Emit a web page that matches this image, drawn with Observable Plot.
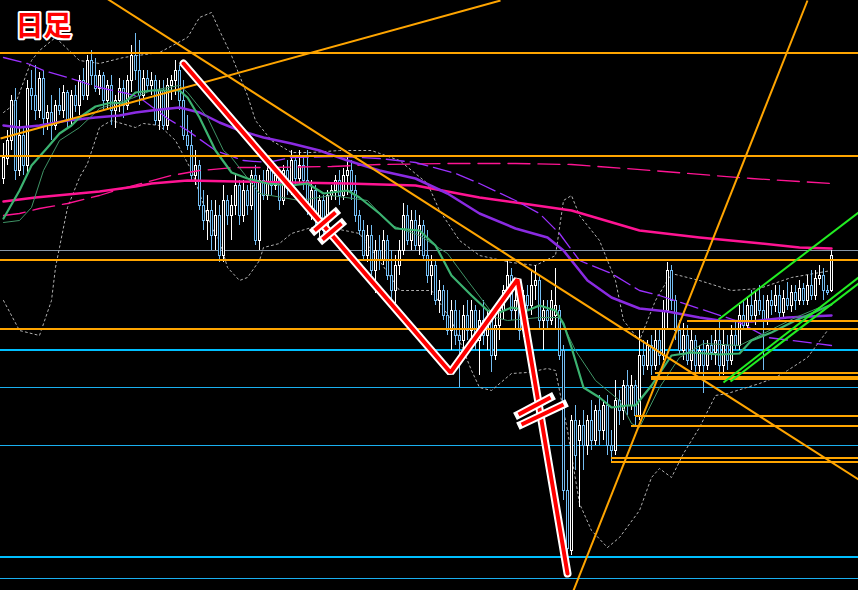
<!DOCTYPE html>
<html><head><meta charset="utf-8">
<script src="https://cdn.jsdelivr.net/npm/d3@7"></script>
<script src="https://cdn.jsdelivr.net/npm/@observablehq/plot@0.6"></script>
<style>html,body{margin:0;padding:0;background:#000;} #chart svg{display:block}</style>
</head><body><div id="chart"></div>
<script>
// Daily candles (price units), index = bar number
const opens = [
422,442,460,500,430,465,435,512,505,490,
522,482,488,475,495,490,508,480,505,495,
520,505,540,525,512,525,500,515,490,500,
512,495,520,545,530,505,522,515,520,480,
510,475,515,520,530,500,465,455,425,435,
395,380,390,365,385,345,400,385,395,415,
385,410,395,425,360,420,405,430,415,425,
400,430,412,440,422,435,420,390,410,380,
400,370,405,410,420,405,425,430,410,385,
370,345,365,330,350,340,360,325,310,335,
350,385,360,380,355,375,345,325,335,300,
310,285,270,290,265,260,285,270,290,260,
280,265,280,245,275,290,310,325,290,300,
270,305,295,315,320,280,290,280,285,290,
250,110,50,180,160,175,155,180,160,190,
170,195,155,150,200,190,215,195,215,185,
245,235,255,235,260,245,290,330,300,270,
250,265,240,260,235,250,235,255,248,260,
235,255,240,265,255,285,275,295,285,300,
290,280,300,295,305,288,302,295,308,300,
312,300,315,305,322,325,310,310];
const highs = [
457,470,505,512,480,472,520,530,535,528,
530,495,505,500,512,515,510,510,515,525,
532,545,550,542,530,528,520,525,505,522,
520,525,555,567,560,530,530,528,525,520,
520,522,525,540,535,520,485,470,450,440,
410,405,400,400,395,415,405,405,425,420,
420,415,430,435,425,430,435,440,435,430,
435,440,450,445,450,445,450,420,415,405,
405,410,415,425,430,432,443,440,425,390,
380,375,375,360,365,370,365,350,345,360,
397,395,390,390,385,380,370,345,340,320,
315,310,300,300,290,295,300,300,295,290,
300,290,282,285,300,315,340,332,315,320,
310,315,330,335,325,300,300,310,332,295,
255,130,185,195,180,190,185,200,195,205,
200,205,170,220,210,220,230,225,220,270,
260,260,265,270,270,300,338,335,305,280,
277,275,270,265,255,260,260,265,270,280,
270,265,275,280,295,300,303,310,308,315,
305,305,310,315,315,310,318,315,315,320,
317,325,330,330,335,332,315,350];
const lows = [
416,435,450,420,424,425,428,490,480,482,
465,470,460,470,485,482,472,475,488,485,
500,500,515,508,505,490,492,475,472,488,
482,490,508,520,495,500,510,505,475,470,
470,470,500,505,490,460,450,420,415,390,
370,360,350,350,338,338,375,360,385,375,
378,385,390,355,350,400,400,405,410,390,
395,405,405,415,415,410,385,380,375,363,
365,365,400,400,395,400,405,400,378,365,
340,338,325,307,330,335,320,300,297,325,
345,355,350,350,345,340,317,305,295,287,
280,265,250,255,213,245,260,255,250,225,
255,250,228,240,260,280,300,280,270,260,
263,290,285,300,270,250,270,275,270,240,
100,23,45,130,93,130,145,150,155,155,
160,145,138,145,175,180,185,190,175,180,
225,230,225,230,235,240,270,290,260,245,
240,235,230,225,228,207,230,240,235,220,
225,230,235,250,250,270,270,280,275,285,
230,275,285,288,280,282,290,288,290,295,
295,295,300,300,315,300,305,308];
const closes = [
443,460,500,430,465,435,512,505,490,522,
482,488,475,495,490,508,480,505,495,520,
505,540,525,512,525,500,515,490,500,512,
495,520,545,530,505,522,515,520,480,510,
475,515,520,530,500,465,455,425,435,395,
380,390,365,385,345,400,385,395,415,385,
410,395,425,360,420,405,430,415,425,400,
430,412,440,422,435,420,390,410,380,400,
370,405,410,420,405,425,430,410,385,370,
345,365,330,350,340,360,325,310,335,350,
385,360,380,355,375,345,325,335,300,310,
285,270,290,265,260,285,270,290,260,280,
265,280,245,275,290,310,325,290,300,270,
305,295,315,320,280,290,280,300,295,245,
110,52,180,145,175,155,180,160,190,170,
195,155,150,200,190,215,195,215,185,245,
235,255,235,260,245,290,330,300,270,250,
265,240,260,235,250,235,255,248,260,235,
255,240,265,255,285,275,295,285,300,290,
280,300,295,305,288,302,295,308,300,312,
300,315,305,322,325,310,308,345];

// Moving averages [bar, value]
const maGreen = [[0,382],[4,410],[7,435],[11,453],[14,467],[17,475],[19,483],[23,494],[27,498],[30,497],[33,508],[37,510],[44,510],[46,503],[49,483],[53,450],[57,428],[61,422],[66,417],[72,415],[76,417],[80,407],[86,410],[89,403],[94,387],[98,372],[104,370],[108,355],[112,325],[117,305],[121,290],[124,288],[127,293],[131,290],[134,295],[138,290],[140,277],[142,253],[145,213],[149,203],[152,193],[156,195],[158,195],[162,215],[167,245],[172,248],[179,246],[184,247],[187,260],[192,268],[198,280],[202,287],[207,296]];
const maGreenThin = [[0,378],[4,380],[7,393],[10,430],[14,460],[19,473],[24,492],[32,502],[37,510],[44,515],[46,508],[51,483],[55,450],[57,443],[64,407],[74,400],[82,405],[91,400],[97,375],[104,365],[111,347],[116,320],[123,283],[126,280],[134,283],[139,283],[143,250],[148,220],[154,200],[157,177],[159,173],[164,213],[169,243],[175,257],[184,255],[198,283],[204,293]];
const maPurple = [[0,475],[4,473],[9,475],[16,480],[23,483],[29,485],[33,488],[37,490],[44,493],[49,488],[54,478],[59,470],[65,463],[72,457],[79,450],[86,440],[94,430],[103,422],[111,407],[119,387],[128,372],[136,363],[140,350],[146,320],[152,303],[159,292],[166,289],[174,283],[179,280],[187,279],[196,283],[207,285]];
const maPurpleThin = [[0,543],[6,537],[10,530],[16,523],[24,513],[31,507],[34,503],[41,482],[46,470],[53,450],[60,440],[66,438],[72,443],[84,444],[94,442],[103,438],[113,427],[119,417],[128,400],[134,387],[139,367],[144,340],[152,327],[159,310],[164,305],[183,280],[191,263],[203,257],[207,255]];
const maPink = [[0,399],[8,403],[16,406],[24,409],[33,414],[37,417],[46,420],[58,419],[72,418],[86,417],[103,415],[119,403],[128,398],[142,390],[159,370],[174,363],[187,358],[199,353],[207,352]];
const maPinkDash = [[0,385],[4,387],[9,392],[16,397],[24,405],[28,410],[42,425],[49,430],[58,433],[66,433],[82,434],[94,436],[111,437],[128,437],[142,436],[162,430],[187,422],[207,417]];
const bbUpper = [[0,488],[3,497],[7,540],[9,550],[13,563],[19,540],[24,537],[30,543],[39,548],[46,563],[49,583],[52,588],[54,570],[57,545],[61,505],[63,480],[67,460],[72,448],[77,448],[84,450],[92,450],[99,440],[106,417],[109,390],[114,360],[119,345],[127,338],[133,335],[138,345],[140,400],[142,405],[144,385],[149,360],[153,320],[155,280],[159,260],[163,300],[167,327],[174,320],[182,310],[189,312],[197,323],[207,330]];
const bbLower = [[0,300],[4,270],[9,265],[12,300],[13,333],[14,353],[16,393],[19,423],[21,437],[24,473],[27,480],[33,473],[35,477],[39,475],[43,460],[47,430],[52,373],[54,360],[56,333],[59,320],[61,323],[64,340],[65,353],[69,357],[72,367],[77,373],[84,371],[89,367],[94,340],[99,310],[107,310],[112,280],[117,230],[119,213],[122,210],[127,227],[131,228],[136,232],[138,230],[141,170],[144,97],[147,70],[151,53],[154,63],[159,90],[162,123],[164,132],[167,123],[170,147],[174,173],[178,205],[181,207],[189,217],[193,223],[196,230],[201,243],[206,270]];

// Horizontal levels
const orangeLevels = [548,445,341,272];
const grayLevels = [350];
const cyanThick = [251,44];
const cyanThin = [213,155,22];
const orangePartial = [[280,171],[228,163],[224,162],[222,162],[185,158],[175,157],[143,152],[139,152]]; // [level, start bar]

// Trendlines [bar1, price1, bar2, price2]
const orangeTrends = [[-0.75,462,124.25,600],[24.25,606,213.75,121],[142.5,10,201,600]];
const greenTrends = [[178.75,281,213.75,388],[180,218,213.75,323],[181.75,219,213.75,317]];
const zigzag = [[45,537],[111.75,228],[128.5,321],[141,27]];
const breakMarks = [[77.75,370,83,388],[79.75,361,84.5,377],[128.75,186,136.75,203],[129.5,176,140,196]];
const title = ["日足"];

const XMAX = 213.75;
const candles = opens.map((o,i)=>({i, o, h:highs[i], l:lows[i], c:closes[i], up: closes[i] > o}));
const upC = candles.filter(d=>d.up), dnC = candles.filter(d=>!d.up);
const WHITE = "#ffffff", BLUE = "#74bdf2";
const px = d=>d[0], py = d=>d[1];
const lnk = {x1:d=>d[0], y1:d=>d[1], x2:d=>d[2], y2:d=>d[3]};
const crisp = {shapeRendering: "crispEdges"};

const chart = Plot.plot({
  width: 858, height: 590, margin: 0,
  x: {domain: [-0.75, XMAX], axis: null},
  y: {domain: [10, 600], axis: null},
  style: {background: "#000"},
  marks: [
    Plot.ruleY(grayLevels, {stroke: "#8796a6", strokeWidth: 1, ...crisp}),
    Plot.ruleY(cyanThin, {stroke: "#1ab0f0", strokeWidth: 1, ...crisp}),
    Plot.ruleY(cyanThick, {stroke: "#00bfff", strokeWidth: 2, ...crisp}),
    Plot.line(bbUpper, {x: px, y: py, stroke: "#b0b0b0", strokeWidth: 1, strokeDasharray: "2,3"}),
    Plot.line(bbLower, {x: px, y: py, stroke: "#b0b0b0", strokeWidth: 1, strokeDasharray: "2,3"}),
    Plot.ruleX(upC, {x: "i", y1: "l", y2: "h", stroke: WHITE, ...crisp}),
    Plot.ruleX(dnC, {x: "i", y1: "l", y2: "h", stroke: BLUE, ...crisp}),
    Plot.rect(upC, {x1: d=>d.i-0.25, x2: d=>d.i+0.25, y1: "o", y2: "c", fill: "#000", stroke: WHITE, ...crisp}),
    Plot.rect(dnC, {x1: d=>d.i-0.25, x2: d=>d.i+0.25, y1: "o", y2: "c", fill: "#000", stroke: BLUE, ...crisp}),
    Plot.line(maPinkDash, {x: px, y: py, stroke: "#ff1493", strokeWidth: 1.3, strokeDasharray: "22,8"}),
    Plot.line(maPink, {x: px, y: py, stroke: "#ff1493", strokeWidth: 2.5}),
    Plot.line(maPurpleThin, {x: px, y: py, stroke: "#9b30ff", strokeWidth: 1.3, strokeDasharray: "18,6"}),
    Plot.line(maPurple, {x: px, y: py, stroke: "#8a2be2", strokeWidth: 2.5}),
    Plot.line(maGreenThin, {x: px, y: py, stroke: "#3f9466", strokeWidth: 1}),
    Plot.line(maGreen, {x: px, y: py, stroke: "#3cb371", strokeWidth: 2.2}),
    Plot.ruleY(orangeLevels, {stroke: "#ffa500", strokeWidth: 2, ...crisp}),
    Plot.ruleY(orangePartial, {y: d=>d[0], x1: d=>d[1], x2: ()=>XMAX, stroke: "#ffa500", strokeWidth: 2, ...crisp}),
    Plot.link(orangeTrends, {...lnk, stroke: "#ffa500", strokeWidth: 2, clip: true}),
    Plot.link(greenTrends, {...lnk, stroke: "#22ee22", strokeWidth: 2, clip: true}),
    Plot.line(zigzag, {x: px, y: py, stroke: "#fff", strokeWidth: 8, strokeLinejoin: "miter"}),
    Plot.line(zigzag, {x: px, y: py, stroke: "#ff0000", strokeWidth: 4, strokeLinejoin: "miter"}),
    Plot.link(breakMarks, {...lnk, stroke: "#fff", strokeWidth: 8, strokeLinecap: "square"}),
    Plot.link(breakMarks, {...lnk, stroke: "#ff0000", strokeWidth: 4}),
    Plot.text(title, {frameAnchor: "top-left", dx: 15, dy: 27, text: d=>d, textAnchor: "start", lineAnchor: "middle",
      fontSize: 28, fontWeight: "bold", fontFamily: "Noto Sans CJK JP", fill: "#ff0000", stroke: "#fff", strokeWidth: 4, paintOrder: "stroke"})
  ]
});
document.getElementById("chart").appendChild(chart);
</script>
</body></html>
